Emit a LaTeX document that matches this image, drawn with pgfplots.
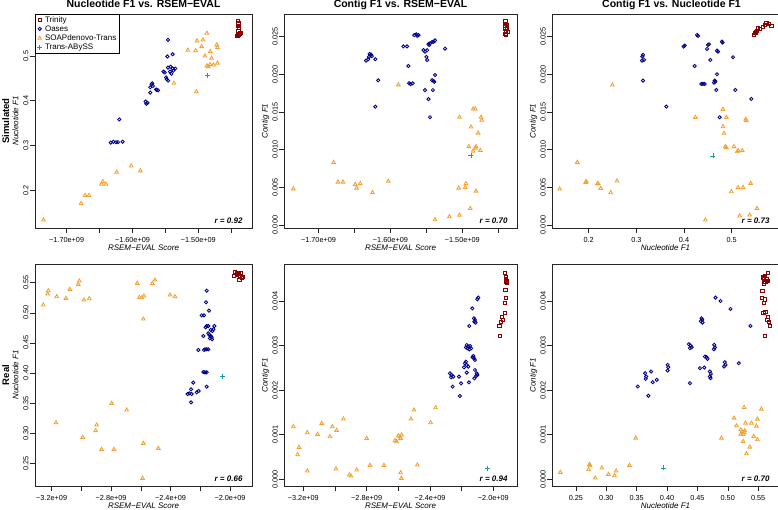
\documentclass[border=0pt]{standalone}
\usepackage{fontspec}
\setmainfont{Liberation Sans}
\usepackage{pgfplots}
\pgfplotsset{compat=1.18}
\definecolor{trin}{HTML}{8B0000}
\definecolor{oas}{HTML}{00008B}
\definecolor{soap}{HTML}{F5A030}
\definecolor{tab}{HTML}{1A9A9A}
\pgfplotsset{
  panel/.style={
    scale only axis, anchor=south west,
    axis line style={line width=0.6pt, black!85},
    tick style={line width=0.5pt, black!85},
    tick align=outside, major tick length=5pt,
    xtick pos=left, ytick pos=left,
    scaled ticks=false, clip=false,
    ticklabel style={font=\fontsize{7.3}{8}\selectfont},
    xticklabel style={anchor=base, yshift=-9.5pt},
    yticklabel style={xshift=-1.5pt, rotate=90, anchor=base},
    every axis x label/.style={at={(axis description cs:0.5,0)}, yshift=-23pt, anchor=base},
    every axis y label/.style={at={(axis description cs:0,0.5)}, xshift=-16.5pt, rotate=90, anchor=base},
    every axis title/.style={at={(axis description cs:0.5,1)}, yshift=6.5pt, anchor=base},
    label style={font=\itshape\fontsize{8}{9}\selectfont},
    title style={font=\bfseries\fontsize{10.5}{12}\selectfont},
  },
  limg/.style={legend image code/.code={\draw[mark repeat=2,mark phase=2] plot coordinates {(0pt,0pt)(3pt,0pt)(6pt,0pt)};}},
  trinity/.style={only marks, mark=square, mark size=1.6pt, color=trin, line width=0.85pt, limg},
  oases/.style={only marks, mark=o, mark size=1.6pt, color=oas, line width=0.85pt, limg},
  soapdt/.style={only marks, mark=triangle, mark size=2.1pt, color=soap, line width=0.85pt, limg},
  tabyss/.style={only marks, mark=+, mark size=2.5pt, color=tab, line width=0.8pt, limg},
}
\newcommand{\rlab}[1]{\node[anchor=base east, font=\bfseries\itshape\fontsize{8}{9}\selectfont] at (rel axis cs:1,0) [xshift=-6pt, yshift=4pt] {#1};}
\begin{document}
\begin{tikzpicture}
\useasboundingbox (0,0) rectangle (778pt,510pt);
% ---------- simulated: nucleotide F1 vs RSEM-EVAL
\begin{axis}[panel, at={(35pt,282pt)}, width=217pt, height=214pt,
  xmin=-1.748, xmax=-1.4185, ymin=0.115, ymax=0.594,
  xtick={-1.70,-1.65,-1.60,-1.55,-1.50,-1.45},
  xticklabels={−1.70e+09,,−1.60e+09,,−1.50e+09,},
  ytick={0.2,0.3,0.4,0.5}, yticklabels={0.2,0.3,0.4,0.5},
  title={Nucleotide F1 vs. RSEM−EVAL}, xlabel={RSEM−EVAL Score}, ylabel={Nucleotide F1},
  legend style={at={(axis description cs:0,1)}, anchor=north west, draw=black, line width=0.5pt,
    font=\fontsize{8}{9}\selectfont, inner xsep=2pt, inner ysep=1pt, row sep=0.5pt, column sep=2pt,
    nodes={inner sep=0.8pt, text height=6pt, text depth=1.2pt}, cells={anchor=west}}]
\addplot[trinity] coordinates {(-1.440,0.578)(-1.439,0.573)(-1.440,0.568)(-1.438,0.563)(-1.439,0.556)(-1.437,0.550)(-1.440,0.546)(-1.436,0.552)(-1.441,0.545)(-1.438,0.547)};
\addlegendentry{Trinity}
\addplot[oases] coordinates {(-1.546,0.536)(-1.539,0.504)(-1.547,0.499)
 (-1.546,0.474)(-1.542,0.476)(-1.539,0.472)(-1.535,0.472)(-1.543,0.465)(-1.538,0.467)(-1.541,0.460)(-1.548,0.448)(-1.546,0.445)(-1.553,0.465)(-1.551,0.463)(-1.549,0.452)
 (-1.571,0.437)(-1.569,0.433)(-1.573,0.430)(-1.570,0.439)(-1.563,0.424)(-1.561,0.423)(-1.564,0.425)(-1.573,0.418)
 (-1.580,0.398)(-1.577,0.395)(-1.579,0.393)(-1.620,0.358)
 (-1.633,0.306)(-1.629,0.308)(-1.625,0.307)(-1.622,0.307)(-1.615,0.308)};
\addlegendentry{Oases}
\addplot[soapdt] coordinates {(-1.487,0.551)(-1.502,0.534)(-1.493,0.536)(-1.516,0.513)(-1.504,0.512)(-1.495,0.521)(-1.482,0.510)(-1.472,0.525)(-1.471,0.519)(-1.490,0.500)(-1.480,0.495)(-1.487,0.478)(-1.482,0.481)(-1.477,0.480)(-1.471,0.484)(-1.485,0.476)(-1.537,0.439)(-1.503,0.420)(-1.602,0.254)(-1.588,0.243)(-1.624,0.240)(-1.645,0.219)(-1.647,0.213)(-1.640,0.213)(-1.672,0.188)(-1.666,0.188)(-1.678,0.170)(-1.735,0.133)};
\addlegendentry{SOAPdenovo-Trans}
\addplot[tabyss] coordinates {(-1.486,0.456)};
\addlegendentry{Trans-ABySS}
\rlab{r = 0.92}
\end{axis}
% ---------- simulated: contig F1 vs RSEM-EVAL
\begin{axis}[panel, at={(284pt,282pt)}, width=233pt, height=214pt,
  xmin=-1.748, xmax=-1.424, ymin=-0.0004, ymax=0.0280,
  xtick={-1.70,-1.65,-1.60,-1.55,-1.50,-1.45},
  xticklabels={−1.70e+09,,−1.60e+09,,−1.50e+09,},
  ytick={0,0.005,0.010,0.015,0.020,0.025}, yticklabels={0.000,0.005,0.010,0.015,0.020,0.025},
  title={Contig F1 vs. RSEM−EVAL}, xlabel={RSEM−EVAL Score}, ylabel={Contig F1}]
\addplot[trinity] coordinates {(-1.440,0.0270)(-1.439,0.0267)(-1.441,0.0264)(-1.438,0.0262)(-1.440,0.0260)(-1.439,0.0258)(-1.437,0.0256)(-1.440,0.0254)(-1.439,0.0252)(-1.438,0.0265)};
\addplot[oases] coordinates {(-1.567,0.0252)(-1.564,0.0253)(-1.561,0.0252)(-1.563,0.0251)(-1.547,0.0240)(-1.545,0.0241)(-1.542,0.0243)(-1.540,0.0243)(-1.538,0.0245)(-1.546,0.0239)
 (-1.524,0.0234)(-1.582,0.0237)(-1.577,0.0237)(-1.629,0.0227)(-1.627,0.0226)(-1.626,0.0224)(-1.630,0.0223)(-1.634,0.0218)(-1.631,0.0220)(-1.621,0.0220)
 (-1.554,0.0232)(-1.552,0.0230)(-1.549,0.0232)(-1.550,0.0223)(-1.549,0.0219)(-1.575,0.0211)(-1.617,0.0192)(-1.574,0.0188)(-1.572,0.0187)(-1.569,0.0188)
 (-1.542,0.0192)(-1.540,0.0191)(-1.539,0.0190)(-1.538,0.0199)(-1.552,0.0179)(-1.541,0.0179)(-1.547,0.0167)(-1.621,0.0157)(-1.545,0.0143)};
\addplot[soapdt] coordinates {(-1.589,0.0186)(-1.485,0.0154)(-1.482,0.0154)(-1.504,0.0143)(-1.474,0.0143)(-1.473,0.0139)(-1.488,0.0130)(-1.478,0.0122)(-1.491,0.0104)(-1.481,0.0104)(-1.482,0.0102)(-1.485,0.0098)(-1.475,0.0099)
 (-1.679,0.0083)(-1.673,0.0057)(-1.666,0.0057)(-1.649,0.0054)(-1.642,0.0055)(-1.647,0.0049)(-1.603,0.0058)(-1.625,0.0043)(-1.735,0.0048)
 (-1.505,0.0049)(-1.496,0.0050)(-1.495,0.0055)(-1.481,0.0045)(-1.489,0.0022)(-1.538,0.0007)(-1.518,0.0011)(-1.504,0.0013)};
\addplot[tabyss] coordinates {(-1.488,0.0092)};
\rlab{r = 0.70}
\end{axis}
% ---------- simulated: contig F1 vs nucleotide F1
\begin{axis}[panel, at={(552pt,282pt)}, width=227pt, height=214pt,
  xmin=0.1231, xmax=0.5993, ymin=-0.0004, ymax=0.0280,
  xtick={0.2,0.3,0.4,0.5}, xticklabels={0.2,0.3,0.4,0.5},
  ytick={0,0.005,0.010,0.015,0.020,0.025}, yticklabels={0.000,0.005,0.010,0.015,0.020,0.025},
  title={Contig F1 vs. Nucleotide F1}, title style={xshift=6pt}, xlabel={Nucleotide F1}, ylabel={Contig F1}]
\addplot[trinity] coordinates {(0.5727,0.02686)(0.5776,0.02668)(0.5832,0.02642)(0.5692,0.02655)(0.5657,0.02624)(0.5587,0.02597)(0.5552,0.02611)(0.5517,0.02566)(0.5497,0.02544)(0.5469,0.02522)(0.5538,0.0258)};
\addplot[oases] coordinates {(0.4273,0.02522)(0.4294,0.02509)(0.3993,0.02367)(0.4014,0.02381)(0.4503,0.02389)(0.4524,0.02398)(0.4797,0.02434)(0.4811,0.0242)(0.4483,0.02336)(0.4692,0.02314)(0.4713,0.02301)(0.5028,0.02226)
 (0.3140,0.02257)(0.3126,0.02235)(0.3161,0.0219)(0.3119,0.02181)(0.4552,0.0219)(0.4224,0.0211)(0.4692,0.0200)(0.3140,0.01916)(0.4643,0.01916)(0.4657,0.01903)(0.4629,0.01889)
 (0.4364,0.01872)(0.4399,0.01872)(0.4434,0.01872)(0.4678,0.01792)(0.5077,0.01792)(0.5413,0.01673)(0.3629,0.01571)(0.4748,0.01429)};
\addplot[soapdt] coordinates {(0.2497,0.01858)(0.4818,0.01535)(0.4238,0.01429)(0.4888,0.01429)(0.5308,0.01385)(0.5294,0.01403)(0.4818,0.01305)(0.4839,0.01217)(0.4867,0.0104)(0.4888,0.01027)(0.5049,0.0104)(0.5119,0.00973)(0.5133,0.00987)(0.5224,0.00987)
 (0.1762,0.00832)(0.1951,0.00575)(0.1937,0.00566)(0.2196,0.00553)(0.2182,0.00544)(0.2594,0.00584)(0.2252,0.00487)(0.2462,0.00429)(0.1392,0.00478)
 (0.4993,0.00442)(0.5133,0.00496)(0.5238,0.0050)(0.5399,0.00553)(0.5531,0.00221)(0.4448,0.00066)(0.5168,0.0012)(0.5378,0.00133)};
\addplot[tabyss] coordinates {(0.4608,0.00916)};
\rlab{r = 0.73}
\end{axis}
% ---------- real: nucleotide F1 vs RSEM-EVAL
\begin{axis}[panel, at={(35pt,24pt)}, width=217pt, height=222pt,
  xmin=-3.312, xmax=-1.852, ymin=0.2122, ymax=0.581,
  xtick={-3.2,-3.0,-2.8,-2.6,-2.4,-2.2,-2.0},
  xticklabels={−3.2e+09,,−2.8e+09,,−2.4e+09,,−2.0e+09},
  ytick={0.25,0.30,0.35,0.40,0.45,0.50,0.55}, yticklabels={0.25,0.30,0.35,0.40,0.45,0.50,0.55},
  xlabel={RSEM−EVAL Score}, ylabel={Nucleotide F1}]
\addplot[trinity] coordinates {(-1.966,0.5683)(-1.955,0.5666)(-1.944,0.5644)(-1.933,0.5611)(-1.921,0.5572)(-1.937,0.5544)(-1.951,0.5627)(-1.928,0.5655)(-1.973,0.5611)(-1.915,0.5600)};
\addplot[oases] coordinates {(-2.157,0.5367)(-2.161,0.5173)(-2.141,0.5035)(-2.191,0.4957)(-2.175,0.4957)(-2.157,0.478)(-2.146,0.478)(-2.164,0.4758)(-2.105,0.478)
 (-2.130,0.4714)(-2.119,0.4697)(-2.112,0.4725)(-2.146,0.4658)(-2.139,0.4631)(-2.130,0.4614)(-2.123,0.4592)(-2.135,0.4575)(-2.121,0.4559)(-2.179,0.4614)
 (-2.168,0.4393)(-2.157,0.4393)(-2.146,0.4393)(-2.175,0.4381)(-2.213,0.4381)(-2.179,0.4016)(-2.168,0.4010)(-2.157,0.4010)(-2.247,0.3839)(-2.157,0.3772)
 (-2.211,0.3700)(-2.224,0.3678)(-2.274,0.3662)(-2.258,0.3651)(-2.285,0.3651)(-2.262,0.3728)(-2.262,0.3512)};
\addplot[soapdt] coordinates {(-3.256,0.5129)(-3.227,0.5312)(-3.222,0.5367)(-3.166,0.5267)(-3.104,0.5240)(-3.077,0.5389)(-3.021,0.5472)(-3.014,0.5528)(-2.982,0.5212)(-2.947,0.5234)
 (-2.624,0.5489)(-2.610,0.5256)(-2.594,0.5251)(-2.579,0.5279)(-2.583,0.4896)(-2.523,0.5489)(-2.505,0.5544)(-2.404,0.5295)(-2.370,0.5267)
 (-2.796,0.3496)(-2.695,0.3385)(-3.171,0.3174)(-2.897,0.3136)(-2.904,0.3042)(-2.991,0.2931)(-2.864,0.2731)(-2.781,0.2731)(-2.583,0.2831)(-2.482,0.2748)(-2.588,0.2250)};
\addplot[tabyss] coordinates {(-2.049,0.3939)};
\rlab{r = 0.66}
\end{axis}
% ---------- real: contig F1 vs RSEM-EVAL
\begin{axis}[panel, at={(284pt,24pt)}, width=233pt, height=222pt,
  xmin=-3.322, xmax=-1.8505, ymin=-0.00015, ymax=0.00483,
  xtick={-3.2,-3.0,-2.8,-2.6,-2.4,-2.2,-2.0},
  xticklabels={−3.2e+09,,−2.8e+09,,−2.4e+09,,−2.0e+09},
  ytick={0,0.001,0.002,0.003,0.004}, yticklabels={0.000,0.001,0.002,0.003,0.004},
  xlabel={RSEM−EVAL Score}, ylabel={Contig F1}]
\addplot[trinity] coordinates {(-1.926,0.004636)(-1.920,0.004546)(-1.916,0.004456)(-1.912,0.004411)(-1.920,0.004486)(-1.924,0.004247)(-1.922,0.004060)(-1.926,0.003963)(-1.928,0.003738)(-1.947,0.003634)(-1.954,0.003536)(-1.962,0.003439)(-1.958,0.003215)(-1.937,0.003574)(-1.920,0.004430)};
\addplot[oases] coordinates {(-2.095,0.004075)(-2.101,0.004037)(-2.133,0.003836)(-2.122,0.003611)(-2.116,0.003574)(-2.112,0.003514)(-2.120,0.003536)(-2.152,0.003439)
 (-2.168,0.003013)(-2.158,0.002976)(-2.147,0.002991)(-2.164,0.002938)(-2.152,0.002916)(-2.141,0.002938)(-2.173,0.002961)
 (-2.131,0.002736)(-2.122,0.002714)(-2.116,0.002677)(-2.126,0.002766)(-2.179,0.002602)(-2.168,0.002564)(-2.158,0.002527)(-2.185,0.002512)(-2.173,0.002639)
 (-2.116,0.002452)(-2.105,0.002378)(-2.109,0.002318)(-2.101,0.002340)(-2.120,0.002265)(-2.274,0.002378)(-2.263,0.002340)(-2.253,0.002303)(-2.267,0.002288)
 (-2.217,0.002303)(-2.257,0.002079)(-2.204,0.002153)(-2.154,0.002176)(-2.211,0.001869)(-2.168,0.002393)};
\addplot[soapdt] coordinates {(-3.263,0.001181)(-3.227,0.000718)(-3.236,0.000553)(-3.175,0.001047)(-3.175,0.000187)(-3.110,0.001009)(-3.084,0.001256)(-3.032,0.000957)(-3.017,0.001181)(-2.990,0.001099)(-2.947,0.001353)
 (-2.994,0.000232)(-2.910,0.000097)(-2.899,0.000075)(-2.863,0.000209)(-2.800,0.000920)(-2.779,0.000314)(-2.691,0.000314)(-2.621,0.000867)(-2.611,0.000845)
 (-2.600,0.000979)(-2.590,0.000957)(-2.579,0.000994)(-2.585,0.000920)(-2.585,0.000149)(-2.581,0.000022)(-2.520,0.001353)(-2.501,0.001555)(-2.480,0.000322)(-2.396,0.001271)(-2.364,0.001607)};
\addplot[tabyss] coordinates {(-2.038,0.000247)};
\rlab{r = 0.94}
\end{axis}
% ---------- real: contig F1 vs nucleotide F1
\begin{axis}[panel, at={(552pt,24pt)}, width=227pt, height=222pt,
  xmin=0.2106, xmax=0.5844, ymin=-0.00015, ymax=0.00483,
  xtick={0.25,0.30,0.35,0.40,0.45,0.50,0.55}, xticklabels={0.25,0.30,0.35,0.40,0.45,0.50,0.55},
  ytick={0,0.001,0.002,0.003,0.004}, yticklabels={0.000,0.001,0.002,0.003,0.004},
  xlabel={Nucleotide F1}, ylabel={Contig F1}]
\addplot[trinity] coordinates {(0.5664,0.004634)(0.5609,0.00456)(0.5598,0.004507)(0.5636,0.004485)(0.5620,0.004433)(0.5598,0.004396)(0.5587,0.00453)(0.5653,0.004455)(0.5571,0.004231)(0.5565,0.00406)(0.5609,0.004037)(0.5598,0.003948)(0.5587,0.003724)(0.5620,0.003761)(0.5609,0.003216)(0.5664,0.003649)(0.5675,0.003537)(0.5691,0.00344)(0.5653,0.003575)};
\addplot[oases] coordinates {(0.4799,0.004075)(0.4881,0.004)(0.5045,0.003821)(0.5374,0.00344)(0.4569,0.003612)(0.4580,0.003575)(0.4585,0.003515)(0.4558,0.003545)
 (0.4361,0.00303)(0.4388,0.003)(0.4405,0.002963)(0.4377,0.002941)(0.4777,0.003015)(0.4788,0.002955)(0.4771,0.002918)(0.4624,0.002754)(0.4651,0.002739)(0.4667,0.002701)
 (0.4952,0.002627)(0.4963,0.002567)(0.4941,0.00253)(0.5182,0.002604)(0.4542,0.002493)(0.4613,0.002507)(0.4706,0.002418)(0.4722,0.002366)(0.4706,0.002306)(0.4717,0.002269)
 (0.4010,0.002567)(0.4021,0.002515)(0.4010,0.00244)(0.3638,0.00238)(0.3655,0.002306)(0.3649,0.002254)(0.3737,0.002418)(0.3764,0.002179)(0.3830,0.002231)(0.3518,0.002082)(0.3693,0.001873)(0.4377,0.002157)};
\addplot[soapdt] coordinates {(0.2243,0.000157)(0.2724,0.000336)(0.2708,0.000216)(0.2735,0.000306)(0.2817,0.00003)(0.2927,0.000254)(0.3036,0.000112)(0.3135,0.000082)(0.3162,0.000187)(0.3381,0.000313)(0.3485,0.000925)
 (0.4897,0.000925)(0.5269,0.001612)(0.5105,0.001373)(0.5144,0.001201)(0.5215,0.001112)(0.5291,0.00126)(0.5390,0.00126)(0.5488,0.001351)(0.5554,0.001575)(0.5472,0.001194)
 (0.5237,0.001067)(0.5269,0.001052)(0.5253,0.001007)(0.5215,0.001015)(0.5280,0.00109)(0.5428,0.000963)(0.5253,0.000851)(0.5488,0.000888)(0.5363,0.000724)(0.5308,0.000575)};
\addplot[tabyss] coordinates {(0.3939,0.000254)};
\rlab{r = 0.70}
\end{axis}
\node[rotate=90, anchor=base, font=\bfseries\fontsize{9.5}{11}\selectfont] at (9pt,389pt) {Simulated};
\node[rotate=90, anchor=base, font=\bfseries\fontsize{9.5}{11}\selectfont] at (9pt,135pt) {Real};
\end{tikzpicture}
\end{document}
